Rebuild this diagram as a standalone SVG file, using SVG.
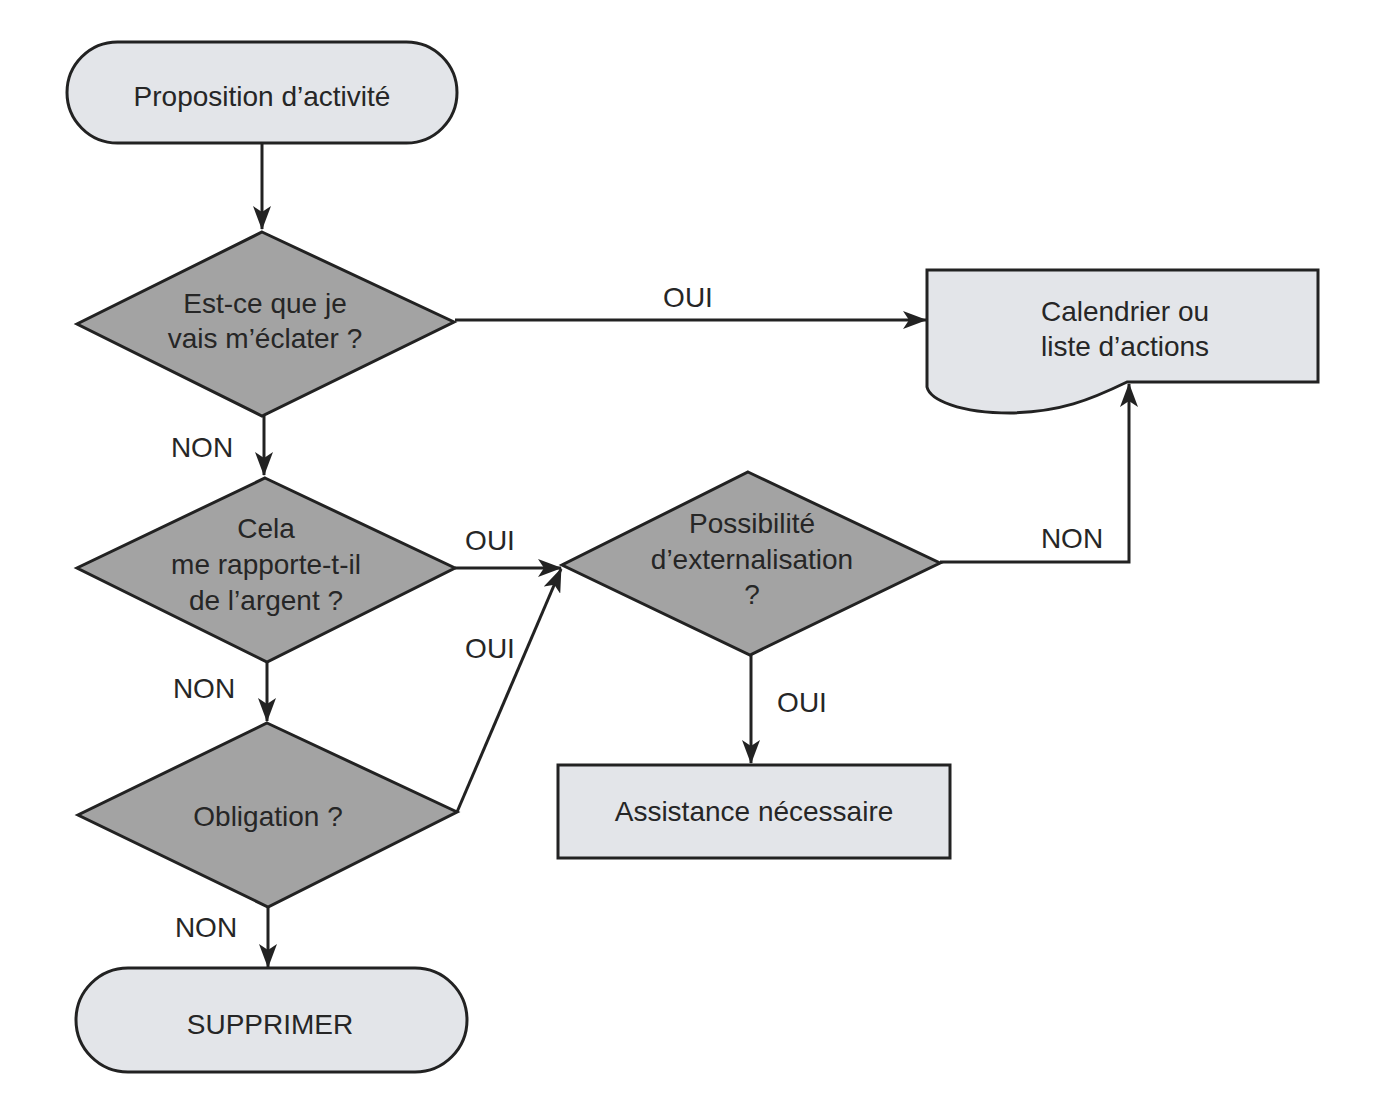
<svg xmlns="http://www.w3.org/2000/svg" width="1384" height="1110" viewBox="0 0 1384 1110">
<style>
.term{fill:#e3e5e9;stroke:#222;stroke-width:3}
.dec{fill:#a3a3a3;stroke:#222;stroke-width:3}
.box{fill:#e3e5e9;stroke:#222;stroke-width:3}
.t{font-family:"Liberation Sans",Arial,sans-serif;font-size:28px;fill:#262626;text-anchor:middle}
.lbl{font-family:"Liberation Sans",Arial,sans-serif;font-size:28px;fill:#262626;text-anchor:middle}
.c{fill:none;stroke:#222;stroke-width:3}
</style>
<defs>
<marker id="ah" markerWidth="24" markerHeight="18" refX="23" refY="9" orient="auto" markerUnits="userSpaceOnUse" viewBox="0 0 24 18">
<path d="M0,0 L24,9 L0,18 L6,9 Z" fill="#222"/>
</marker>
</defs>
<rect width="1384" height="1110" fill="#ffffff"/>
<g id="connectors">
<path class="c" d="M262,143 L262,229" marker-end="url(#ah)"/>
<path class="c" d="M455,320 L926,320" marker-end="url(#ah)"/>
<path class="c" d="M264,416 L264,475" marker-end="url(#ah)"/>
<path class="c" d="M455,568 L561,568" marker-end="url(#ah)"/>
<path class="c" d="M267,662 L267,721" marker-end="url(#ah)"/>
<path class="c" d="M457,812 L561,569" marker-end="url(#ah)"/>
<path class="c" d="M268,907 L268,967" marker-end="url(#ah)"/>
<path class="c" d="M940,562 L1129,562 L1129,384" marker-end="url(#ah)"/>
<path class="c" d="M751,655 L751,763" marker-end="url(#ah)"/>
<text class="lbl" x="688" y="307">OUI</text>
<text class="lbl" x="202" y="457">NON</text>
<text class="lbl" x="490" y="550">OUI</text>
<text class="lbl" x="490" y="658">OUI</text>
<text class="lbl" x="204" y="698">NON</text>
<text class="lbl" x="206" y="937">NON</text>
<text class="lbl" x="1072" y="548">NON</text>
<text class="lbl" x="802" y="712">OUI</text>
</g>
<g id="n_proposition">
<rect class="term" x="67" y="42" width="390" height="101" rx="50.5"/>
<text class="t" x="262" y="106">Proposition d’activité</text>
</g>
<g id="n_eclater">
<polygon class="dec" points="262,232 454,322 262,416 77,324"/>
<text class="t" x="265" y="313">Est-ce que je</text>
<text class="t" x="265" y="348">vais m’éclater ?</text>
</g>
<g id="n_calendrier">
<path class="box" d="M927,270 L1318,270 L1318,382 L1127,382 C1090,400 1060,412 1010,413 C960,413 930,400 927,387 Z"/>
<text class="t" x="1125" y="321">Calendrier ou</text>
<text class="t" x="1125" y="356">liste d’actions</text>
</g>
<g id="n_argent">
<polygon class="dec" points="265,478 455,568 267,662 77,568"/>
<text class="t" x="266" y="538">Cela</text>
<text class="t" x="266" y="574">me rapporte-t-il</text>
<text class="t" x="266" y="610">de l’argent ?</text>
</g>
<g id="n_externalisation">
<polygon class="dec" points="748,472 940,563 750,655 562,565"/>
<text class="t" x="752" y="533">Possibilité</text>
<text class="t" x="752" y="569">d’externalisation</text>
<text class="t" x="752" y="604">?</text>
</g>
<g id="n_obligation">
<polygon class="dec" points="267,723 457,812 268,907 78,815"/>
<text class="t" x="268" y="826">Obligation ?</text>
</g>
<g id="n_assistance">
<rect class="box" x="558" y="765" width="392" height="93"/>
<text class="t" x="754" y="821">Assistance nécessaire</text>
</g>
<g id="n_supprimer">
<rect class="term" x="76" y="968" width="391" height="104" rx="52"/>
<text class="t" x="270" y="1034">SUPPRIMER</text>
</g>
</svg>
